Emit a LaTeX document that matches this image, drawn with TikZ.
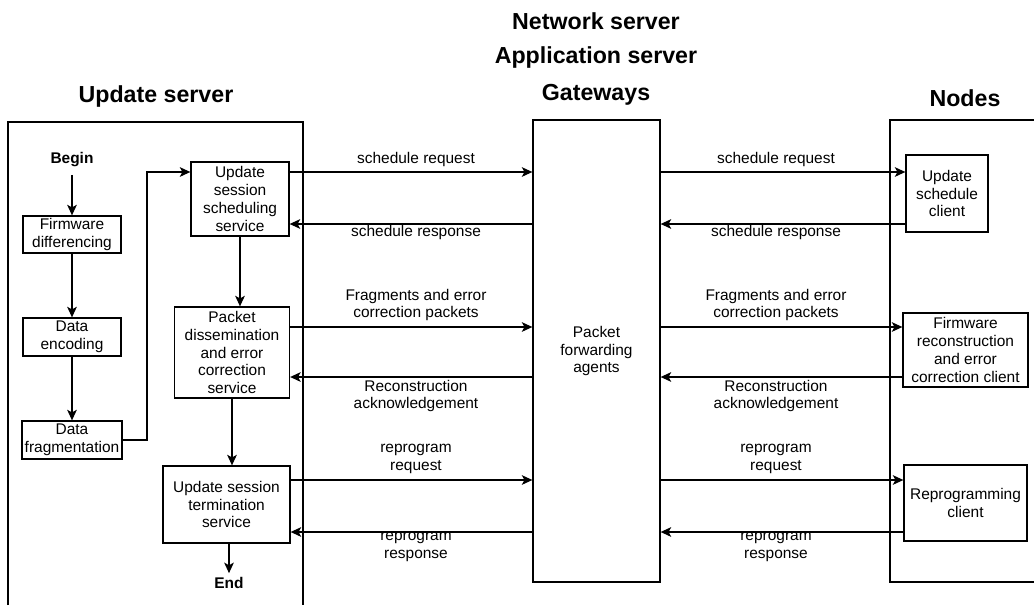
\documentclass[tikz,border=0pt]{standalone}
\usepackage{fontspec}
\setmainfont{Liberation Sans}
\usetikzlibrary{arrows.meta}
\newcommand{\txtsize}{\fontsize{8.8}{10.2}\selectfont}
\newcommand{\headsize}{\fontsize{13.2}{15}\selectfont\bfseries}
\begin{document}
\begin{tikzpicture}[x=0.02cm,y=-0.02cm,line width=0.75pt,
  box/.style={draw,align=center,inner sep=0pt,font=\txtsize},
  lbl/.style={align=center,inner sep=0pt,font=\txtsize},
  head/.style={inner sep=0pt,font=\headsize},
  arr/.style={-{Stealth[length=6pt,width=5.5pt,inset=1.5pt]}}]
\useasboundingbox (0,0) rectangle (1034,605);
\def\servercol{(8,605) -- (8,122) -- (303,122) -- (303,605)}
\def\nodecol{(1034,120) -- (890,120) -- (890,582) -- (1034,582)}

% column titles
\node[head] (ttl1) at (156,97) {Update server};
\node[head] (ttl2) at (596,21) {Network server};
\node[head] (ttl3) at (596,58) {Application server};
\node[head] (ttl4) at (596,95) {Gateways};
\node[head] (ttl5) at (965,98) {Nodes};

\draw \servercol;
\draw \nodecol;

% message rows
\coordinate (r1) at (0,172);
\coordinate (r2) at (0,224);
\coordinate (r3) at (0,327);
\coordinate (r4) at (0,377);
\coordinate (r5) at (0,480);
\coordinate (r6) at (0,532);
\coordinate (turn) at (147,172);

% update server
\node[lbl,font=\txtsize\bfseries] (begin) at (72,160) {Begin};
\node[box,minimum width=1.96cm,minimum height=0.74cm] (fd) at (72,234.5) {Firmware\\differencing};
\node[box,minimum width=1.96cm,minimum height=0.76cm] (de) at (72,337) {Data\\encoding};
\node[box,minimum width=2.0cm,minimum height=0.76cm] (df) at (72,440) {Data\\fragmentation};
\node[box,minimum width=1.96cm,minimum height=1.48cm] (us) at (240,199) {Update\\session\\scheduling\\service};
\node[box,minimum width=2.3cm,minimum height=1.82cm] (pd) at (232,352.5) {Packet\\dissemination\\and error\\correction\\service};
\node[box,minimum width=2.54cm,minimum height=1.54cm] (ut) at (226.5,504.5) {Update session\\termination\\service};
\node[lbl,font=\txtsize\bfseries] (end) at (229,583) {End};

\draw[arr] ([yshift=-4pt]begin.south) -- (fd.north);
\draw[arr] (fd) -- (de);
\draw[arr] (de) -- (df);
\draw[arr] (df.east) -| (turn) -- (us.west |- turn);
\draw[arr] (us.south) -- (us.south |- pd.north);
\draw[arr] (pd.south) -- (pd.south |- ut.north);
\draw[arr] (end |- ut.south) -- ([yshift=2pt]end.north);

% gateways
\node[box,minimum width=2.54cm,minimum height=9.24cm] (gw) at (596.5,351) {Packet\\forwarding\\agents};

% nodes
\node[box,minimum width=1.64cm,minimum height=1.54cm] (usc) at (947,193.5) {Update\\schedule\\client};
\node[box,minimum width=2.5cm,minimum height=1.48cm] (frc) at (965.5,350) {Firmware\\reconstruction\\and error\\correction client};
\node[box,minimum width=2.46cm,minimum height=1.52cm] (rc) at (965.5,503) {Reprogramming\\client};

% server <-> gateways
\draw[arr] (us.east |- r1) -- (gw.west |- r1);
\draw[arr] (gw.west |- r2) -- (us.east |- r2);
\draw[arr] (pd.east |- r3) -- (gw.west |- r3);
\draw[arr] (gw.west |- r4) -- (pd.east |- r4);
\draw[arr] (ut.east |- r5) -- (gw.west |- r5);
\draw[arr] (gw.west |- r6) -- (ut.east |- r6);

% gateways <-> nodes
\draw[arr] (gw.east |- r1) -- (usc.west |- r1);
\draw[arr] (usc.west |- r2) -- (gw.east |- r2);
\draw[arr] (gw.east |- r3) -- (frc.west |- r3);
\draw[arr] (frc.west |- r4) -- (gw.east |- r4);
\draw[arr] (gw.east |- r5) -- (rc.west |- r5);
\draw[arr] (rc.west |- r6) -- (gw.east |- r6);

% message labels
\foreach \cx/\sd in {416/a,776/b}{
  \node[lbl] (sreq\sd) at (\cx,159) {schedule request};
  \node[lbl] (sres\sd) at (\cx,232) {schedule response};
  \node[lbl] (frag\sd) at (\cx,305) {Fragments and error\\correction packets};
  \node[lbl] (rack\sd) at (\cx,396) {Reconstruction\\acknowledgement};
  \node[lbl] (preq\sd) at (\cx,459) {reprogram\\request};
  \node[lbl] (pres\sd) at (\cx,547) {reprogram\\response};
}
\end{tikzpicture}
\end{document}
